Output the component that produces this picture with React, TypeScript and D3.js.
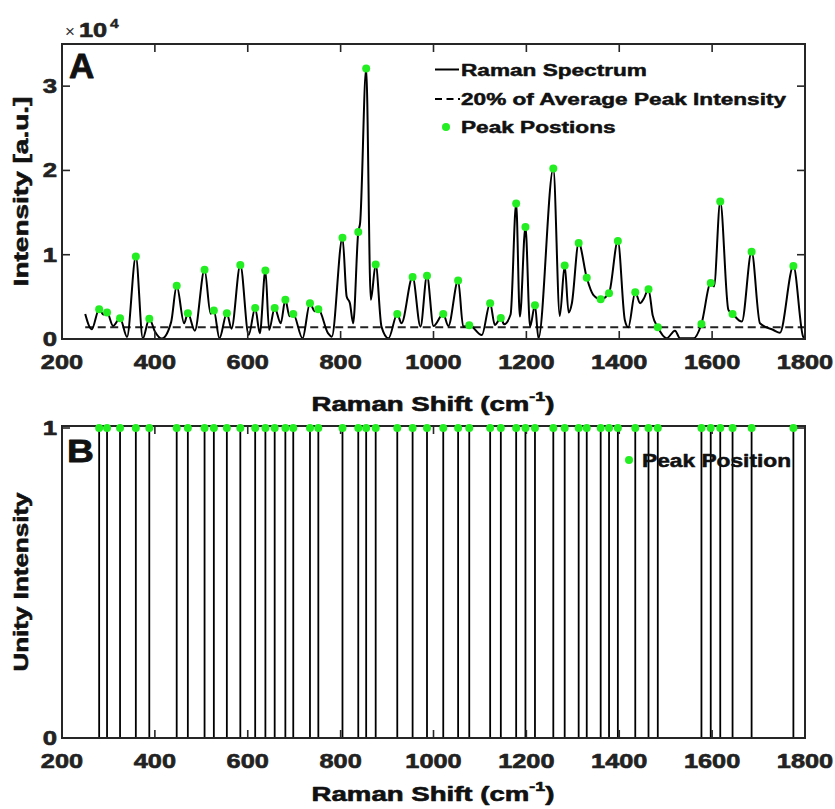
import React from 'react';
import * as d3 from 'd3';

const W = 835;
const H = 809;

// Detected peaks (Raman shift, intensity)
const peakShift = [280, 297, 325, 359, 388, 447, 471, 507, 527, 555, 584, 616, 638, 658, 681, 698, 734, 752,
  804, 838, 855, 875.5, 922, 955, 986, 1021, 1053, 1077, 1122, 1145, 1178, 1198, 1218.5, 1258,
  1282.5, 1312.6, 1330, 1360, 1378, 1397, 1434.5, 1463, 1483, 1577, 1597, 1617.5, 1644, 1685, 1775];
const peakIntensity = [3536, 3131, 2464, 9798, 2417, 6310, 3060, 8214, 3369, 3060, 8774, 3690, 8131, 3690, 4643, 2976, 4250, 3536,
  12024, 12702, 32107, 8845, 2976, 7345, 7500, 2976, 6940, 1631, 4250, 2500, 16071, 13298, 4012, 20238,
  8726, 11393, 7262, 4726, 5440, 11631, 5560, 5917, 1393, 1786, 6631, 16310, 2976, 10357, 8655];

// Spectrum points (peaks and valleys)
const spectrumShift = [250, 264, 280, 289, 297, 310, 325, 340, 359, 374, 388, 400, 415, 435, 447, 463, 471, 486, 507, 520, 527, 539,
  555, 565, 584, 602, 616, 626, 638, 646, 658, 671, 681, 690, 698, 718, 734, 744, 752, 773, 781, 804, 813, 820, 827, 838, 842,
  855, 865, 875.5, 888, 903, 922, 931, 955, 972, 986, 1000, 1021, 1032, 1053, 1064, 1077, 1104, 1122, 1132, 1145, 1152, 1166,
  1178, 1186, 1198, 1208, 1218.5, 1226, 1258, 1272, 1282.5, 1291, 1298, 1312.6, 1330, 1344, 1360, 1378, 1397, 1412, 1419.5,
  1434.5, 1445, 1453, 1463, 1472, 1483, 1502, 1520, 1531, 1560, 1577, 1597, 1604, 1617.5, 1635, 1644, 1664, 1685, 1703, 1732,
  1746, 1775, 1796, 1800];
const spectrumIntensity = [2976, 1150, 3536, 2900, 3131, 1548, 2464, 250, 9798, 80, 2417, 900, 50, 2000, 6310, 1865, 3060, 990, 8214, 3000, 3369, 80,
  3060, 1230, 8774, 476, 3690, 675, 8131, 1071, 3690, 1865, 4643, 2700, 2976, 80, 4250, 3300, 3536, 675, 280, 12024, 5040, 4250, 1865, 12702, 13770,
  32107, 4643, 8845, 1467, 80, 2976, 1865, 7345, 1467, 7500, 1548, 2976, 1548, 6940, 1467, 1631, 476, 4250, 1667, 2500, 1750, 2900,
  16071, 2660, 13298, 1467, 4012, 80, 20238, 2738, 8726, 3131, 4250, 11393, 7262, 5238, 4726, 5440, 11631, 2262, 1393,
  5560, 4250, 4800, 5917, 2800, 1393, 80, 990, 80, 80, 1786, 6631, 6230, 16310, 3452, 2976, 2063, 10357, 1865, 1071,
  750, 8655, 280, 100];

const threshold = 1400;
const xTicks = [200, 400, 600, 800, 1000, 1200, 1400, 1600, 1800];
const yTicksA = [0, 10000, 20000, 30000];
const yTickLabelsA = ['0', '1', '2', '3'];
const yTicksB = [0, 1];
const yTickLabelsB = ['0', '1'];

const FONT = '"Liberation Sans", Arial, Helvetica, sans-serif';
const AXC = '#262626';
const GREEN = '#22ee22';

const L = 62, R = 805;
const A_TOP = 44, A_BOT = 339;
const B_TOP = 426, B_BOT = 738;
const TICK = 8;

function T({ x, y, sx = 1, anchor = 'start', size, weight = 'bold', rotate = 0, fill = '#111', sw = 0.6, children }: any) {
  return (
    <text
      transform={`translate(${x},${y}) rotate(${rotate}) scale(${sx},1)`}
      fontFamily={FONT}
      fontSize={size}
      fontWeight={weight}
      textAnchor={anchor}
      fill={fill}
      stroke={fill}
      strokeWidth={sw}
      strokeLinejoin="round"
    >
      {children}
    </text>
  );
}

function Frame({ top, bottom, y, yTicks, yLabels }: any) {
  const x = d3.scaleLinear().domain([200, 1800]).range([L, R]);
  return (
    <g>
      <rect x={L} y={top} width={R - L} height={bottom - top} fill="none" stroke={AXC} strokeWidth={2} />
      {xTicks.map((t) => (
        <g key={'xt' + t}>
          <line x1={x(t)} x2={x(t)} y1={bottom} y2={bottom - TICK} stroke={AXC} strokeWidth={1.6} />
          <line x1={x(t)} x2={x(t)} y1={top} y2={top + TICK} stroke={AXC} strokeWidth={1.6} />
          <T x={x(t)} y={bottom + 30} sx={1.3} size={19.5} anchor="middle" fill="#222">{String(t)}</T>
        </g>
      ))}
      {yTicks.map((t: number, i: number) => (
        <g key={'yt' + t}>
          <line x1={L} x2={L + TICK} y1={y(t)} y2={y(t)} stroke={AXC} strokeWidth={1.6} />
          <line x1={R} x2={R - TICK} y1={y(t)} y2={y(t)} stroke={AXC} strokeWidth={1.6} />
          <T x={57} y={y(t) + 7} sx={1.32} size={19.5} anchor="end" fill="#222">{yLabels[i]}</T>
        </g>
      ))}
    </g>
  );
}

function XLabel({ cx, baseline }: any) {
  return (
    <text
      transform={`translate(${cx},${baseline}) scale(1.38,1)`}
      fontFamily={FONT}
      fontSize={20}
      fontWeight="bold"
      textAnchor="middle"
      fill="#111"
      stroke="#111"
      strokeWidth={0.6}
      strokeLinejoin="round"
    >
      Raman Shift (cm
      <tspan fontSize={13} dy={-10}>-1</tspan>
      <tspan dy={10}>)</tspan>
    </text>
  );
}

export default function App() {
  const x = d3.scaleLinear().domain([200, 1800]).range([L, R]);
  const yA = d3.scaleLinear().domain([0, 35000]).range([A_BOT, A_TOP]);
  const yB = d3.scaleLinear().domain([0, 1.0065]).range([B_BOT, B_TOP]);

  const spectrum = spectrumShift.map((s, i) => [s, spectrumIntensity[i]] as [number, number]);
  const line = d3
    .line<[number, number]>()
    .x((d) => x(d[0]))
    .y((d) => yA(d[1]))
    .curve(d3.curveMonotoneX);

  return (
    <svg width={W} height={H} style={{ position: 'absolute', left: 0, top: 0, background: '#fff' }}>
      <rect width={W} height={H} fill="#fff" />

      {/* Panel A */}
      <line x1={x(250)} x2={x(1800)} y1={yA(threshold)} y2={yA(threshold)} stroke="#222" strokeWidth={2} strokeDasharray="8 4.5" />
      <path d={line(spectrum) || ''} fill="none" stroke="#000" strokeWidth={2} strokeLinejoin="round" />
      {peakShift.map((s, i) => (
        <circle key={'pa' + i} cx={x(s)} cy={yA(peakIntensity[i])} r={4} fill={GREEN} />
      ))}
      <Frame top={A_TOP} bottom={A_BOT} y={yA} yTicks={yTicksA} yLabels={yTickLabelsA} />

      {/* x10^4 */}
      <text x={65} y={37} fontFamily={FONT} fontSize={17} fill="#333">×</text>
      <T x={79} y={37} sx={1.3} size={19.5} fill="#222">10</T>
      <T x={110} y={28} sx={1.2} size={13} fill="#222" sw={0.4}>4</T>

      <T x={69} y={78} size={35} sw={0.8}>A</T>

      {/* Legend A */}
      <line x1={435} x2={459} y1={69.5} y2={69.5} stroke="#000" strokeWidth={2} />
      <T x={461} y={75.5} sx={1.33} size={17} sw={0.5}>Raman Spectrum</T>
      <line x1={435} x2={460} y1={99} y2={99} stroke="#000" strokeWidth={2} strokeDasharray="7 4.5" />
      <T x={461} y={105} sx={1.33} size={17} sw={0.5}>20% of Average Peak Intensity</T>
      <circle cx={446} cy={127} r={4} fill={GREEN} />
      <T x={461} y={133} sx={1.33} size={17} sw={0.5}>Peak Postions</T>

      <XLabel cx={433} baseline={411} />
      <T x={28} y={(A_TOP + A_BOT) / 2} rotate={-90} sx={1.4} size={20} anchor="middle">Intensity [a.u.]</T>

      {/* Panel B */}
      {peakShift.map((s, i) => (
        <line key={'sb' + i} x1={x(s)} x2={x(s)} y1={yB(0)} y2={yB(1)} stroke="#000" strokeWidth={1.8} />
      ))}
      <Frame top={B_TOP} bottom={B_BOT} y={yB} yTicks={yTicksB} yLabels={yTickLabelsB} />
      {peakShift.map((s, i) => (
        <circle key={'pb' + i} cx={x(s)} cy={yB(1)} r={4} fill={GREEN} />
      ))}

      <T x={67} y={462} sx={1.2} size={31} sw={0.8}>B</T>

      <circle cx={629} cy={460} r={4} fill={GREEN} />
      <T x={642} y={467} sx={1.3} size={17.5} sw={0.5}>Peak Position</T>

      <XLabel cx={433} baseline={801} />
      <T x={28} y={(B_TOP + B_BOT) / 2} rotate={-90} sx={1.3} size={20} anchor="middle">Unity Intensity</T>
    </svg>
  );
}
